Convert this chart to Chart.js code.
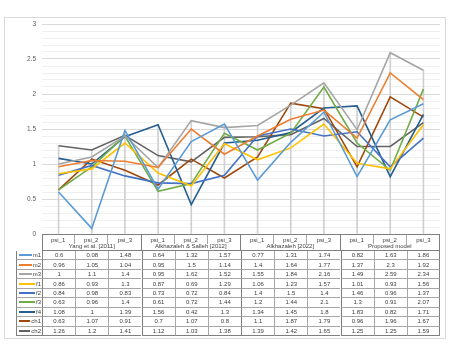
<!DOCTYPE html>
<html lang="en">
<head>
<meta charset="UTF-8">
<title>psi comparison</title>
<script src="https://cdn.jsdelivr.net/npm/chart.js@4.4.1/dist/chart.umd.min.js"></script>
<style>
  body { margin: 0; background: #fff; font-family: "Liberation Sans", Arial, sans-serif; }
  #frame { position: absolute; left: 4px; top: 17px; width: 442px; height: 322px; border: 1px solid #d9d9d9; box-sizing: border-box; }
  #chart { position: absolute; left: 0; top: 0; }
  .cell { position: absolute; box-sizing: border-box; font-size: 6px; color: #404040; white-space: nowrap;
          display: flex; align-items: center; justify-content: center; }
</style>
</head>
<body>
<div id="frame"></div>
<canvas id="chart" width="453" height="346"></canvas>
<div id="table"></div>
<script>
// ---- data ----
const categories = ['psi_1', 'psi_2', 'psi_3', 'psi_1', 'psi_2', 'psi_3',
                    'psi_1', 'psi_2', 'psi_3', 'psi_1', 'psi_2', 'psi_3'];
const groups = ['Yang et al. [2011]', 'Alkhazaleh & Salleh [2012]', 'Alkhazaleh [2022]', 'Proposed model'];
const seriesNames = ['m1', 'm2', 'm3', 'f1', 'f2', 'f3', 'f4', 'ch1', 'ch2'];

const m1  = [0.6, 0.08, 1.48, 0.64, 1.32, 1.57, 0.77, 1.31, 1.74, 0.82, 1.63, 1.86];
const m2  = [0.96, 1.05, 1.04, 0.95, 1.5, 1.14, 1.4, 1.64, 1.77, 1.37, 2.3, 1.92];
const m3  = [1, 1.1, 1.4, 0.95, 1.62, 1.52, 1.55, 1.84, 2.16, 1.49, 2.59, 2.34];
const f1  = [0.86, 0.93, 1.3, 0.87, 0.69, 1.29, 1.06, 1.23, 1.57, 1.01, 0.93, 1.56];
const f2  = [0.84, 0.98, 0.83, 0.73, 0.72, 0.84, 1.4, 1.5, 1.4, 1.46, 0.96, 1.37];
const f3  = [0.63, 0.96, 1.4, 0.61, 0.72, 1.44, 1.2, 1.44, 2.1, 1.3, 0.91, 2.07];
const f4  = [1.08, 1, 1.39, 1.56, 0.42, 1.3, 1.34, 1.45, 1.8, 1.83, 0.82, 1.71];
const ch1 = [0.63, 1.07, 0.91, 0.7, 1.07, 0.8, 1.1, 1.87, 1.79, 0.96, 1.96, 1.67];
const ch2 = [1.26, 1.2, 1.41, 1.12, 1.03, 1.38, 1.39, 1.42, 1.65, 1.25, 1.25, 1.59];

const yLabels = [0, 0.5, 1, 1.5, 2, 2.5, 3];

// ---- styling ----
const seriesData = [m1, m2, m3, f1, f2, f3, f4, ch1, ch2];
const colors = ['#5B9BD5', '#ED7D31', '#A5A5A5', '#FFC000', '#4472C4', '#70AD47', '#255E91', '#9E480E', '#636363'];

// drop lines go from the highest value of each category down to the axis
const dropTops = categories.map((_, i) => Math.max(...seriesData.map(s => s[i])));

const isMajor = (v) => Math.round(v * 10) % 5 === 0;

const datasets = seriesData.map((d, i) => ({
  type: 'line',
  label: seriesNames[i],
  data: d,
  borderColor: colors[i],
  backgroundColor: colors[i],
  borderWidth: 1.6,
  pointRadius: 0,
  tension: 0,
  order: 1
}));
datasets.push({
  type: 'bar',
  label: 'drop',
  data: dropTops,
  backgroundColor: '#d0d0d0',
  barThickness: 1,
  order: 100
});

const chart = new Chart(document.getElementById('chart'), {
  data: { labels: categories, datasets },
  options: {
    responsive: false,
    animation: false,
    layout: { padding: { left: 0, top: 24, right: 13, bottom: 112 } },
    plugins: { legend: { display: false }, tooltip: { enabled: false } },
    scales: {
      x: {
        offset: true,
        ticks: { display: false },
        grid: { display: false },
        border: { display: false },
        afterFit: (s) => { s.height = 0; }
      },
      y: {
        min: 0,
        max: 3,
        ticks: {
          stepSize: 0.1,
          autoSkip: false,
          padding: 6,
          color: '#595959',
          font: { family: 'Liberation Sans', size: 6.5 },
          callback: (v) => isMajor(v) && yLabels.includes(Math.round(v * 10) / 10) ? String(Math.round(v * 10) / 10) : ''
        },
        grid: {
          drawTicks: false,
          color: (ctx) => isMajor(ctx.tick.value) ? '#d9d9d9' : '#f0f0f0',
          lineWidth: 1
        },
        border: { display: false },
        afterFit: (s) => { s.width = 42; }
      }
    }
  }
});

// ---- data table under the plot, aligned with the x scale ----
const table = document.getElementById('table');
const area = chart.chartArea;
const xScale = chart.scales.x;
const colW = area.width / categories.length;
const colLeft = (i) => xScale.getPixelForValue(i) - colW / 2;
const tableTop = area.bottom;
const head1H = 10;
const head2H = 7;
const rowH = 9.45;
const legendLeft = 16;
const lineColor = '#a6a6a6';
const darkLine = '#7f7f7f';

function addCell(x, y, w, h, html, css) {
  const el = document.createElement('div');
  el.className = 'cell';
  Object.assign(el.style, { left: x + 'px', top: y + 'px', width: w + 'px', height: h + 'px' }, css || {});
  el.innerHTML = html;
  table.appendChild(el);
  return el;
}

// header row 1: psi labels
categories.forEach((c, i) => {
  addCell(colLeft(i), tableTop, colW, head1H, c, {
    borderTop: '1px solid ' + darkLine,
    borderRight: (i % 3 === 2) ? 'none' : '1px solid ' + lineColor
  });
});
// header row 2: group labels, spanning three columns each
groups.forEach((g, gi) => {
  addCell(colLeft(gi * 3), tableTop, colW * 3, head1H + head2H, g, {
    alignItems: 'flex-end',
    paddingBottom: '1px',
    borderLeft: gi === 0 ? '1px solid ' + darkLine : 'none',
    borderRight: '1px solid ' + darkLine,
    borderBottom: '1px solid ' + darkLine
  });
});

// data rows
const bodyTop = tableTop + head1H + head2H;
seriesNames.forEach((name, r) => {
  const y = bodyTop + r * rowH;
  const key = '<span style="flex:1;height:2px;background:' + colors[r] + ';margin:0 1px 0 2px"></span>' +
              '<span style="padding-right:2px">' + name + '</span>';
  addCell(legendLeft, y, area.left - legendLeft + 1, rowH, key, {
    borderLeft: '1px solid ' + darkLine,
    borderBottom: '1px solid ' + lineColor,
    justifyContent: 'flex-start'
  });
  seriesData[r].forEach((v, i) => {
    addCell(colLeft(i), y, colW, rowH, String(v), {
      borderLeft: '1px solid ' + (i % 3 === 0 ? darkLine : lineColor),
      borderBottom: '1px solid ' + (r === seriesNames.length - 1 ? darkLine : lineColor),
      borderRight: i === categories.length - 1 ? '1px solid ' + darkLine : 'none'
    });
  });
});
// legend column bottom edge
table.lastChild && addCell(legendLeft, bodyTop + seriesNames.length * rowH - 1, area.left - legendLeft + 1, 1, '', {
  borderTop: '1px solid ' + darkLine
});
</script>
</body>
</html>
